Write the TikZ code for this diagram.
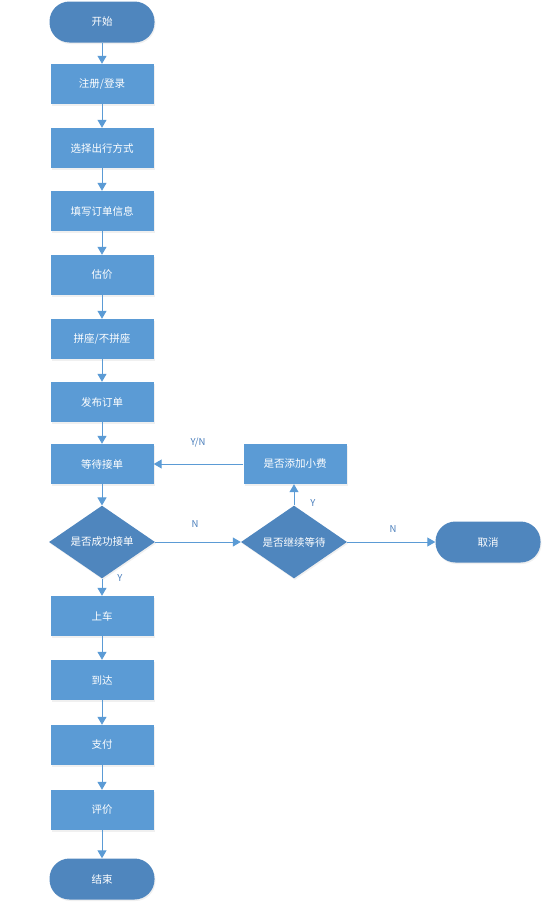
\documentclass[tikz,border=0pt]{standalone}
\usepackage{fontspec}
\setmainfont{Noto Sans CJK SC}
\usepackage{tikz}
\usetikzlibrary{shapes.geometric}
\usetikzlibrary{arrows.meta}
\usetikzlibrary{shadows}
\definecolor{boxblue}{HTML}{5B9BD5}
\definecolor{darkblue}{HTML}{4F86BE}
\definecolor{lineblue}{HTML}{5B9BD5}
\definecolor{labelblue}{HTML}{4A7EBB}
\tikzset{
	base/.style={text=white,font=\fontsize{10.5}{12}\selectfont,inner sep=0pt,
		drop shadow={opacity=0.12,shadow xshift=1pt,shadow yshift=-1.5pt}},
	procbox/.style={base,rectangle,fill=boxblue,minimum width=103pt,minimum height=40pt},
	termbox/.style={base,rectangle,rounded corners=20pt,fill=darkblue,minimum width=105pt,minimum height=41pt},
	choice/.style={base,diamond,fill=darkblue,minimum width=106pt,minimum height=60pt},
	flow/.style={draw=lineblue,line width=1pt,-{Triangle[width=9pt,length=8pt]}},
	lbl/.style={text=labelblue,font=\fontsize{9.5}{11}\selectfont}
}

\begin{document}
\begin{tikzpicture}[x=1pt,y=-1pt]
	\useasboundingbox (0,0) rectangle (557,905);
	% main column
	\node[termbox] (start) at (102,22) {开始};
	\node[procbox] (login) at (102,84) {注册/登录};
	\node[procbox] (mode) at (102,148) {选择出行方式};
	\node[procbox] (order) at (102,211) {填写订单信息};
	\node[procbox] (price) at (102,275) {估价};
	\node[procbox] (share) at (102,339) {拼座/不拼座};
	\node[procbox] (publish) at (102,402) {发布订单};
	\node[procbox] (wait) at (102,464) {等待接单};
	\node[choice] (accepted) at (102,542) {是否成功接单};
	\node[procbox] (board) at (102,616) {上车};
	\node[procbox] (arrive) at (102,680) {到达};
	\node[procbox] (pay) at (102,745) {支付};
	\node[procbox] (rate) at (102,810) {评价};
	\node[termbox] (finish) at (102,879) {结束};
	% side branch
	\node[choice] (keepwait) at (294,542) {是否继续等待};
	\node[procbox] (tip) at (295,464) {是否添加小费};
	\node[termbox] (cancel) at (488,542) {取消};

	\draw[flow] (start) -- (login);
	\draw[flow] (login) -- (mode);
	\draw[flow] (mode) -- (order);
	\draw[flow] (order) -- (price);
	\draw[flow] (price) -- (share);
	\draw[flow] (share) -- (publish);
	\draw[flow] (publish) -- (wait);
	\draw[flow] (wait) -- (accepted);
	\draw[flow] (accepted) -- (board);
	\draw[flow] (board) -- (arrive);
	\draw[flow] (arrive) -- (pay);
	\draw[flow] (pay) -- (rate);
	\draw[flow] (rate) -- (finish);
	\draw[flow] (accepted) -- (keepwait);
	\draw[flow] (keepwait) -- (tip.south -| keepwait);
	\draw[flow] (tip) -- (wait);
	\draw[flow] (keepwait) -- (cancel);

	\node[lbl] (ylabel) at (120,578) {Y};
	\node[lbl] (nlabel) at (195,524) {N};
	\node[lbl] (yllabel) at (313,503) {Y};
	\node[lbl] (ynlabel) at (198,443) {Y/N};
	\node[lbl] (ncancel) at (393,529) {N};
\end{tikzpicture}
\end{document}
